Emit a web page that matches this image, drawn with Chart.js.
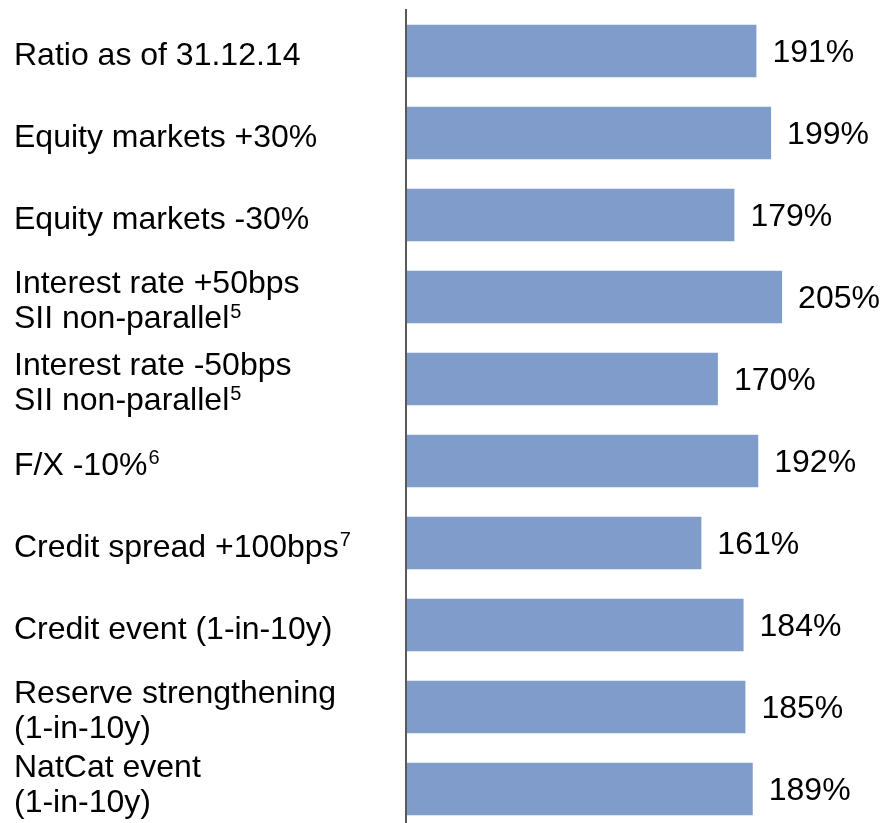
<!DOCTYPE html>
<html>
<head>
<meta charset="utf-8">
<script src="https://cdn.jsdelivr.net/npm/chart.js@4"></script>
<style>
  html, body { margin: 0; padding: 0; background: #fff; overflow: hidden; }
  #wrap { position: relative; width: 884px; height: 831px; }
</style>
</head>
<body>
<div id="wrap"><canvas id="chart-ratio"></canvas></div>
<script>
// Solvency ratio sensitivities
const scenarios = [
    ['Ratio as of 31.12.14'],
    ['Equity markets +30%'],
    ['Equity markets -30%'],
    ['Interest rate +50bps', 'SII non-parallel'],
    ['Interest rate -50bps', 'SII non-parallel'],
    ['F/X -10%'],
    ['Credit spread +100bps'],
    ['Credit event (1-in-10y)'],
    ['Reserve strengthening', '(1-in-10y)'],
    ['NatCat event', '(1-in-10y)']
];
// footnote numbers raised after the last line of a label
const footnotes = ['', '', '', '5', '5', '6', '7', '', '', ''];
const ratios = [191, 199, 179, 205, 170, 192, 161, 184, 185, 189];

const barColor = '#809CCB';
const fontFamily = "'Liberation Sans', Arial, sans-serif";
const lineGap = 35;
const textBottom = 823; // visible page height, labels stay inside it

// Category labels (with footnote superscripts) in the left column
const categoryLabels = {
    id: 'categoryLabels',
    afterDraw(chart) {
        const ctx = chart.ctx;
        const yScale = chart.scales.y;
        ctx.save();
        ctx.fillStyle = '#000';
        ctx.textAlign = 'left';
        ctx.textBaseline = 'alphabetic';
        scenarios.forEach((lines, i) => {
            const half = (lines.length - 1) / 2 * lineGap;
            // keep the block's last line clear of the page bottom
            const yc = Math.min(yScale.getPixelForValue(i) + 2, textBottom - 23 - half);
            lines.forEach((line, k) => {
                const cy = yc - half + k * lineGap;
                ctx.font = `32px ${fontFamily}`;
                ctx.fillText(line, yScale.left, cy + 11.5);
                if (footnotes[i] && k === lines.length - 1) {
                    const w = ctx.measureText(line).width;
                    ctx.font = `20px ${fontFamily}`;
                    ctx.fillText(footnotes[i], yScale.left + w + 1, cy + 1);
                }
            });
        });
        ctx.restore();
    }
};

// Percentage text at the end of each bar
const valueLabels = {
    id: 'valueLabels',
    afterDatasetsDraw(chart) {
        const ctx = chart.ctx;
        const meta = chart.getDatasetMeta(0);
        ctx.save();
        ctx.font = `32px ${fontFamily}`;
        ctx.fillStyle = '#000';
        ctx.textAlign = 'left';
        ctx.textBaseline = 'alphabetic';
        meta.data.forEach((bar, i) => {
            ctx.fillText(ratios[i] + '%', bar.x + 16, bar.y + 11);
        });
        ctx.restore();
    }
};

const chartRatio = new Chart(document.getElementById('chart-ratio').getContext('2d'), {
    type: 'bar',
    data: {
        labels: scenarios,
        datasets: [{
            data: ratios,
            backgroundColor: barColor,
            barPercentage: 0.64,
            categoryPercentage: 1
        }]
    },
    options: {
        indexAxis: 'y',
        responsive: true,
        maintainAspectRatio: false,
        animation: false,
        layout: { padding: { left: 14, right: 1, top: 10, bottom: 1 } },
        scales: {
            x: { display: false, min: 0, max: 260 },
            y: {
                grid: { display: false, drawTicks: false },
                border: { display: true, color: '#595959', width: 2, z: 1 },
                ticks: { display: false },
                afterFit(scale) {
                    // fixed label column
                    scale.width = 392;
                    scale.paddingTop = 0;
                    scale.paddingBottom = 0;
                }
            }
        },
        plugins: { legend: { display: false }, tooltip: { enabled: false } }
    },
    plugins: [valueLabels, categoryLabels]
});
</script>
</body>
</html>
